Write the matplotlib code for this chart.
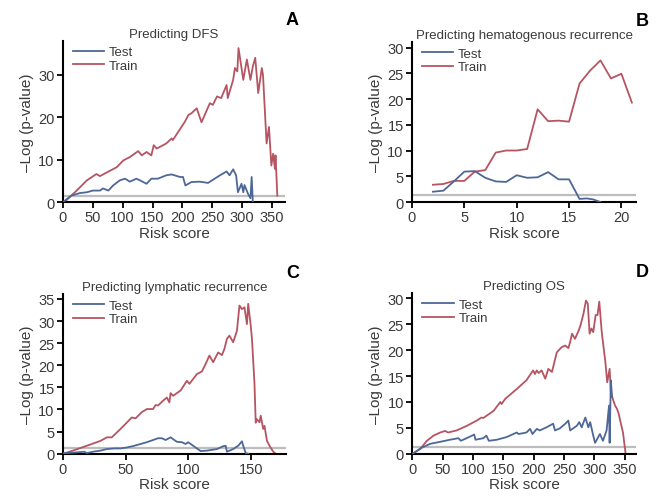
import matplotlib
matplotlib.use('Agg')
import matplotlib.pyplot as plt

plt.rcParams['font.family'] = ['Liberation Sans', 'DejaVu Sans']

# Panel A: Predicting DFS
dfs_train_x = [0, 3, 23, 40, 56, 62, 79, 90, 101, 112, 126, 132, 140, 148, 152, 157, 173, 182, 184,
               204, 210, 215, 224, 232, 246, 251, 258, 265, 274, 276, 285, 288, 292, 294, 302, 308,
               314, 318, 322, 327, 333, 335, 341, 345, 349, 352, 355, 356, 359]
dfs_train_y = [0, 0.1, 2.7, 5.1, 6.6, 6.1, 7.4, 8.2, 9.8, 10.6, 12.0, 11.0, 11.8, 11.0, 13.4, 12.6, 13.8,
               15.0, 14.6, 18.9, 20.5, 20.9, 22.1, 18.8, 23.3, 22.9, 24.9, 24.5, 27.6, 24.5, 28.8, 31.6,
               30.8, 36.3, 28.8, 33.6, 28.8, 32.0, 34.0, 25.7, 31.6, 30.0, 13.8, 17.7, 8.6, 11.4, 7.8,
               11.0, 1.5]
dfs_test_x = [0, 2, 14, 28, 40, 50, 62, 67, 76, 84, 95, 104, 112, 123, 129, 140, 148, 159, 173, 182,
              196, 201, 205, 215, 229, 243, 254, 263, 274, 279, 285, 290, 293, 299, 302, 304, 310, 314,
              316, 318]
dfs_test_y = [0, 0.2, 1.5, 2.1, 2.3, 2.7, 2.7, 3.2, 2.7, 3.9, 5.1, 5.5, 4.8, 5.5, 5.1, 4.3, 5.5, 5.5,
              6.3, 6.5, 5.9, 5.9, 3.9, 4.7, 4.8, 4.5, 5.5, 6.3, 7.2, 6.3, 7.7, 6.3, 2.3, 4.3, 2.3, 4.0,
              1.9, 0.9, 5.9, 0.0]

# Panel B: Predicting hematogenous recurrence
hem_x = [2, 3, 4, 5, 6, 7, 8, 9, 10, 11, 12, 13, 14, 15, 16, 17, 18, 19, 20, 21]
hem_train_y = [3.35, 3.5, 4.1, 4.1, 5.9, 6.2, 9.6, 10.0, 10.0, 10.3, 18.0, 15.7, 15.8, 15.6, 23.0,
               25.5, 27.5, 24.0, 24.9, 19.3]
hem_test_x = [2, 3, 4, 5, 6, 7, 8, 9, 10, 11, 12, 13, 14, 15, 16, 16.7, 17.3, 18]
hem_test_y = [2.0, 2.2, 4.0, 5.9, 6.0, 4.7, 4.0, 3.9, 5.2, 4.7, 4.8, 5.8, 4.4, 4.4, 0.6, 0.7, 0.5, 0.0]

# Panel C: Predicting lymphatic recurrence
lym_train_x = [0, 2, 11, 21, 30, 35, 39, 46, 55, 58, 63, 67, 72, 74, 76, 80, 83, 85, 86, 88, 94, 99,
               101, 107, 111, 114, 117, 120, 124, 127, 129, 131, 133, 136, 139, 141, 143, 145, 147, 148,
               150, 151, 153, 154, 155, 157, 158, 160, 161, 163, 165, 168, 170]
lym_train_y = [0, 0.15, 1.0, 2.0, 2.9, 3.7, 3.7, 5.6, 8.2, 8.0, 9.4, 10.1, 10.1, 11.0, 10.9, 12.0,
               12.7, 11.6, 13.7, 13.1, 14.3, 16.5, 15.8, 18.0, 18.6, 20.3, 22.2, 20.7, 22.9, 22.3,
               23.7, 26.0, 26.7, 25.2, 27.8, 33.5, 32.7, 33.1, 29.3, 33.9, 29.0, 26.0, 16.0, 7.0, 7.8,
               7.1, 8.6, 5.6, 6.3, 2.9, 1.8, 0.45, 0.0]
lym_test_x = [0, 11, 17, 19, 25, 30, 35, 41, 46, 51, 57, 62, 67, 72, 76, 79, 82, 86, 88, 91, 95, 98,
              100, 104, 110, 115, 123, 128, 130, 131, 136, 140, 143, 144, 146, 148]
lym_test_y = [0.1, 0.3, 0.45, 0.15, 0.5, 0.7, 1.05, 1.2, 1.2, 1.4, 1.8, 2.2, 2.6, 3.1, 3.5, 3.5, 3.1,
              3.7, 3.3, 2.7, 2.6, 2.2, 2.6, 1.8, 0.6, 0.7, 1.05, 1.7, 1.8, 0.45, 1.05, 1.8, 2.8, 1.8,
              0.15, 0.0]

# Panel D: Predicting OS
os_train_x = [0, 2, 13, 24, 35, 46, 54, 59, 73, 90, 106, 114, 117, 134, 145, 147, 153, 172, 188, 199,
              202, 205, 208, 213, 219, 224, 230, 238, 246, 252, 257, 260, 263, 268, 274, 277, 282, 286,
              289, 292, 295, 298, 302, 305, 308, 312, 318, 321, 325, 327, 331, 334, 337, 340, 343, 347,
              351]
os_train_y = [0, 0.1, 0.9, 2.5, 3.5, 4.1, 4.4, 4.1, 4.5, 5.4, 6.4, 7.0, 6.9, 8.3, 10.0, 9.6, 10.6,
              12.5, 14.2, 16.1, 15.4, 16.1, 15.6, 16.1, 14.5, 16.4, 15.8, 19.6, 20.6, 20.9, 20.4, 21.6,
              23.2, 22.2, 23.8, 24.8, 27.1, 29.6, 29.0, 23.2, 24.2, 23.5, 26.8, 26.8, 29.4, 23.5, 17.7,
              13.8, 16.4, 11.9, 10.3, 9.3, 8.7, 7.7, 6.1, 4.1, 0.3]
os_test_x = [0, 2, 13, 29, 46, 62, 76, 80, 95, 102, 104, 117, 122, 126, 139, 155, 172, 175, 188, 194,
             198, 205, 210, 221, 232, 235, 243, 252, 257, 260, 271, 275, 279, 285, 290, 293, 298, 301,
             309, 314, 320, 324, 325, 327, 329]
os_test_y = [0, 0.1, 1.0, 1.9, 2.3, 2.7, 3.0, 2.5, 3.3, 3.7, 2.7, 3.0, 3.5, 2.5, 2.7, 3.2, 4.1, 3.8,
             4.1, 4.8, 3.8, 4.8, 4.5, 5.1, 5.8, 4.5, 4.9, 5.8, 6.4, 4.5, 5.4, 6.1, 5.1, 7.0, 5.1, 6.1,
             3.5, 2.1, 3.8, 2.5, 4.5, 9.3, 2.1, 14.2, 11.0]

blue = '#4d6797'
red = '#b65462'
gray_line = '#bdbdbd'
text_col = '#3a3a3a'
sig = 1.3

fig = plt.figure(figsize=(6.65, 5.02), dpi=100)

panels = [
    dict(rect=[0.0947, 0.5956, 0.334, 0.321], title='Predicting DFS', letter='A',
         tx=dfs_test_x, ty=dfs_test_y, rx=dfs_train_x, ry=dfs_train_y,
         xlim=(0, 372), ylim=(0, 38), xt=range(0, 351, 50), yt=range(0, 31, 10)),
    dict(rect=[0.6195, 0.5956, 0.337, 0.318], title='Predicting hematogenous recurrence', letter='B',
         tx=hem_test_x, ty=hem_test_y, rx=hem_x, ry=hem_train_y,
         xlim=(0, 21.4), ylim=(0, 31), xt=range(0, 21, 5), yt=range(0, 31, 5)),
    dict(rect=[0.0947, 0.0942, 0.335, 0.318], title='Predicting lymphatic recurrence', letter='C',
         tx=lym_test_x, ty=lym_test_y, rx=lym_train_x, ry=lym_train_y,
         xlim=(0, 178), ylim=(0, 36.1), xt=range(0, 151, 50), yt=range(0, 36, 5)),
    dict(rect=[0.620, 0.0942, 0.336, 0.3195], title='Predicting OS', letter='D',
         tx=os_test_x, ty=os_test_y, rx=os_train_x, ry=os_train_y,
         xlim=(0, 368), ylim=(0, 31), xt=range(0, 351, 50), yt=range(0, 31, 5)),
]

for p in panels:
    ax = fig.add_axes(p['rect'])
    ax.axhline(sig, color=gray_line, lw=1.6, zorder=1)
    ax.plot(p['tx'], p['ty'], color=blue, lw=1.3, label='Test', zorder=3)
    ax.plot(p['rx'], p['ry'], color=red, lw=1.3, label='Train', zorder=2)
    ax.set_xlim(*p['xlim'])
    ax.set_ylim(*p['ylim'])
    ax.set_xticks(list(p['xt']))
    ax.set_yticks(list(p['yt']))
    for s in ['top', 'right']:
        ax.spines[s].set_visible(False)
    for s in ['left', 'bottom']:
        ax.spines[s].set_linewidth(1.5)
        ax.spines[s].set_color('black')
    ax.tick_params(direction='out', length=4, width=1.3, labelsize=10.5, labelcolor=text_col, pad=2)
    ax.set_title(p['title'], fontsize=9.5, color=text_col, pad=3)
    ax.set_xlabel('Risk score', fontsize=11, color=text_col, labelpad=1)
    ax.set_ylabel('\u2013Log (p-value)', fontsize=11, color=text_col, labelpad=3)
    leg = ax.legend(loc='upper left', frameon=False, fontsize=9.5, handlelength=2.4,
                    handletextpad=0.35, labelspacing=0.1, borderaxespad=0.0,
                    bbox_to_anchor=(0.02, 1.0))
    for t in leg.get_texts():
        t.set_color(text_col)
    x0 = p['rect'][0] + p['rect'][2] + 0.01
    y0 = p['rect'][1] + p['rect'][3] + 0.043
    fig.text(x0, y0, p['letter'], fontsize=13, fontweight='bold', color='black',
             ha='center', va='center')

fig.savefig('out.png', dpi=100)
plt.close(fig)
